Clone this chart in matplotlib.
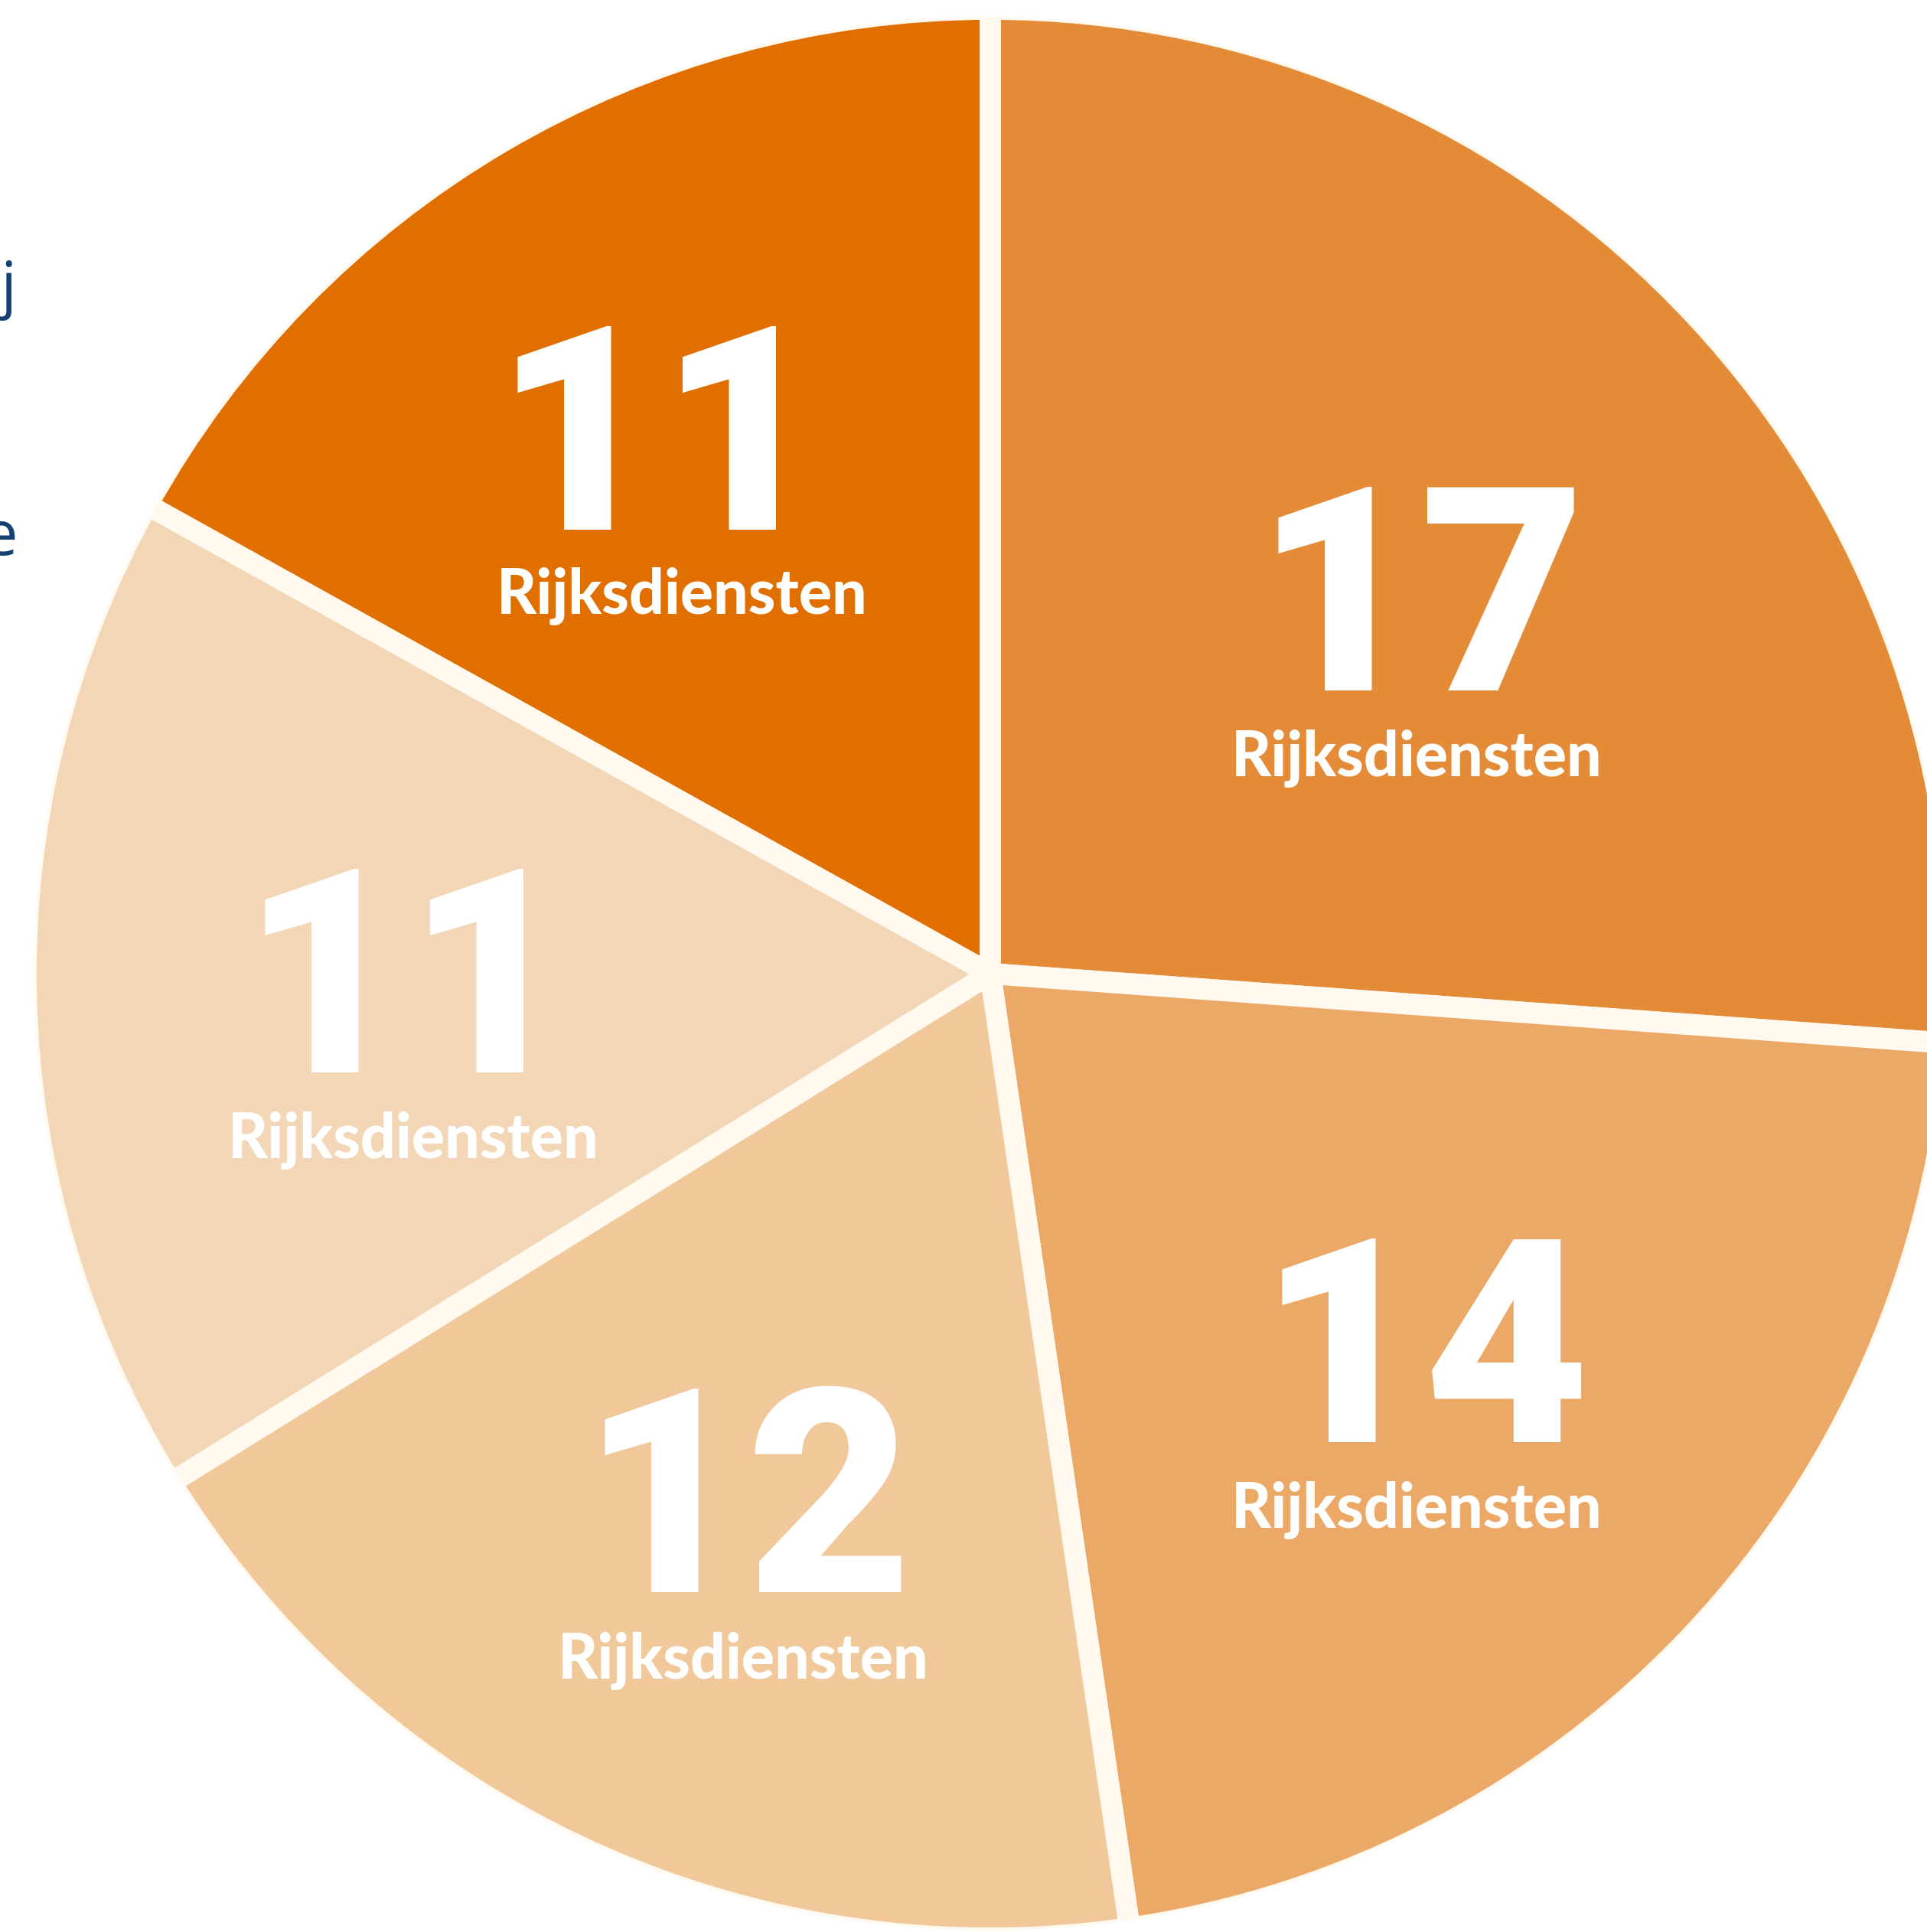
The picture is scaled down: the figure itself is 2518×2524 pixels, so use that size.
import matplotlib.pyplot as plt
from matplotlib.patches import Wedge

W, H = 2518, 2524

# data (clockwise from the top)
values = [17, 14, 12, 11, 11]
numbers = ["17", "14", "12", "11", "11"]
sublabel = "Rijksdiensten"
colors = ["#E48B37", "#EBA866", "#F0C899", "#F3D6B5", "#E06F00"]

# label placement (pixels from top-left)
num_x = [1856, 1861, 976, 532, 862]
num_base = [902, 1884, 2080, 1401, 692]
txt_x = [1851, 1851, 971, 540, 891]
txt_base = [1014, 1996, 2193, 1513, 802]

cx, cy, r = 1294, H - 1272, 1250

fig = plt.figure(figsize=(W / 100, H / 100), dpi=100)
ax = fig.add_axes([0, 0, 1, 1])

ax.pie(values, colors=colors, startangle=90, counterclock=False,
       center=(cx, cy), radius=r + 10,
       wedgeprops=dict(edgecolor="#FFF9F0", linewidth=20))
# hide the outer part of the edge line so the rim stays clean
ax.add_patch(Wedge((cx, cy), r + 40, 0, 360, width=40, facecolor="white",
                   edgecolor="none"))

# pie() sets its own limits, so set ours afterwards
ax.set_xlim(0, W)
ax.set_ylim(0, H)
ax.set_aspect("equal")
ax.axis("off")

for i in range(len(values)):
    ax.text(num_x[i], H - num_base[i], numbers[i], ha="center", va="baseline",
            color="white", fontsize=269, fontweight="black", family="Roboto")
    ax.text(txt_x[i], H - txt_base[i], sublabel, ha="center", va="baseline",
            color="white", fontsize=58, fontweight="black", family="Lato")

# cut-off text on the left edge
ax.text(22, H - 400, "bij", ha="right", va="baseline", color="#154273",
        fontsize=58, family="Open Sans")
ax.text(24, H - 725, "de", ha="right", va="baseline", color="#154273",
        fontsize=58, family="Open Sans")

fig.savefig("out.png", dpi=100)
